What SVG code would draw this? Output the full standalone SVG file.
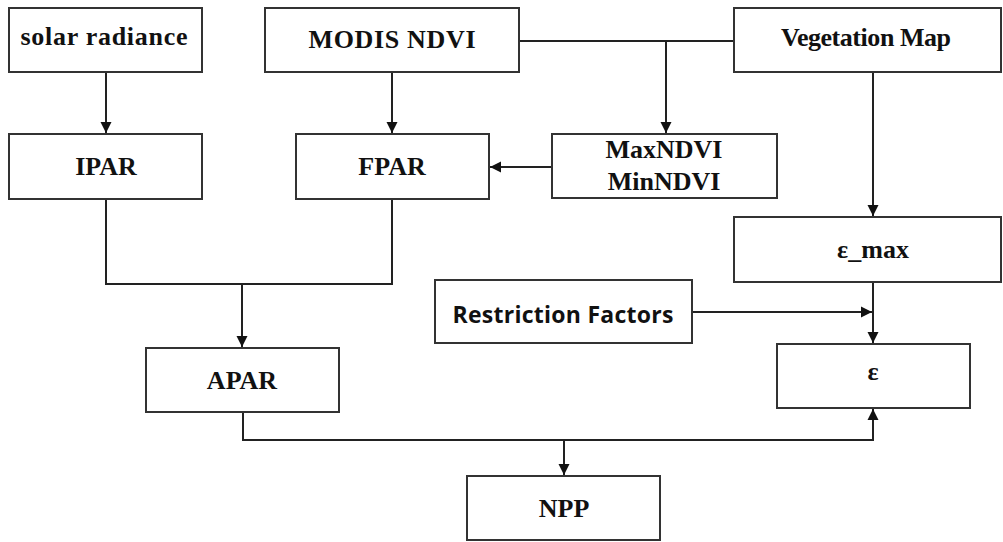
<svg xmlns="http://www.w3.org/2000/svg" width="1003" height="542" viewBox="0 0 1003 542">
<style>
.box{fill:#fff;stroke:#333;stroke-width:2}
.t{font-family:"Liberation Serif","Times New Roman",serif;font-weight:bold;font-size:26px;fill:#111;text-anchor:middle}
.s{font-family:"Open Sans","Noto Sans",sans-serif;font-weight:bold;font-size:23px;fill:#111;text-anchor:middle}
.c{fill:none;stroke:#222;stroke-width:2}
</style>
<defs>
<marker id="ah" markerUnits="userSpaceOnUse" markerWidth="12" markerHeight="12" viewBox="0 0 12 12" refX="11" refY="6" orient="auto">
<path d="M0,0.5 L11,6 L0,11.5 Z" fill="#111"/>
</marker>
</defs>
<rect width="1003" height="542" fill="#fff"/>
<g id="connectors">
<path class="c" d="M106,72 V133" marker-end="url(#ah)"/>
<path class="c" d="M392,72 V133" marker-end="url(#ah)"/>
<path class="c" d="M519,41 H734"/>
<path class="c" d="M666,41 V133" marker-end="url(#ah)"/>
<path class="c" d="M552,167 H490" marker-end="url(#ah)"/>
<path class="c" d="M873,72 V216" marker-end="url(#ah)"/>
<path class="c" d="M106,199 V284 H392 V199"/>
<path class="c" d="M242,284 V347" marker-end="url(#ah)"/>
<path class="c" d="M873,282 V343" marker-end="url(#ah)"/>
<path class="c" d="M692,312 H872" marker-end="url(#ah)"/>
<path class="c" d="M243,412 V440 H873 V409" marker-end="url(#ah)"/>
<path class="c" d="M564,440 V475" marker-end="url(#ah)"/>
</g>
<g id="solar"><rect class="box" x="9" y="8" width="193" height="64"/><text class="t" x="104" y="45" textLength="167">solar radiance</text></g>
<g id="modis"><rect class="box" x="265" y="8" width="254" height="64"/><text class="t" x="392" y="48" textLength="167">MODIS NDVI</text></g>
<g id="vegmap"><rect class="box" x="734" y="8" width="267" height="64"/><text class="t" x="866" y="46" textLength="170">Vegetation Map</text></g>
<g id="ipar"><rect class="box" x="9" y="134" width="193" height="65"/><text class="t" x="106" y="175">IPAR</text></g>
<g id="fpar"><rect class="box" x="296" y="134" width="193" height="65"/><text class="t" x="392" y="175">FPAR</text></g>
<g id="maxmin"><rect class="box" x="552" y="134" width="225" height="64"/><text class="t" x="664" y="158">MaxNDVI</text><text class="t" x="664" y="190">MinNDVI</text></g>
<g id="emax"><rect class="box" x="734" y="217" width="267" height="65"/><text class="t" x="873" y="258">ε_max</text></g>
<g id="restriction"><rect class="box" x="435" y="280" width="257" height="63"/><text class="s" x="563" y="323" textLength="221">Restriction Factors</text></g>
<g id="eps"><rect class="box" x="777" y="344" width="193" height="64"/><text class="t" x="873" y="380">ε</text></g>
<g id="apar"><rect class="box" x="146" y="348" width="193" height="64"/><text class="t" x="242" y="389">APAR</text></g>
<g id="npp"><rect class="box" x="467" y="476" width="193" height="64"/><text class="t" x="564" y="517">NPP</text></g>
</svg>
